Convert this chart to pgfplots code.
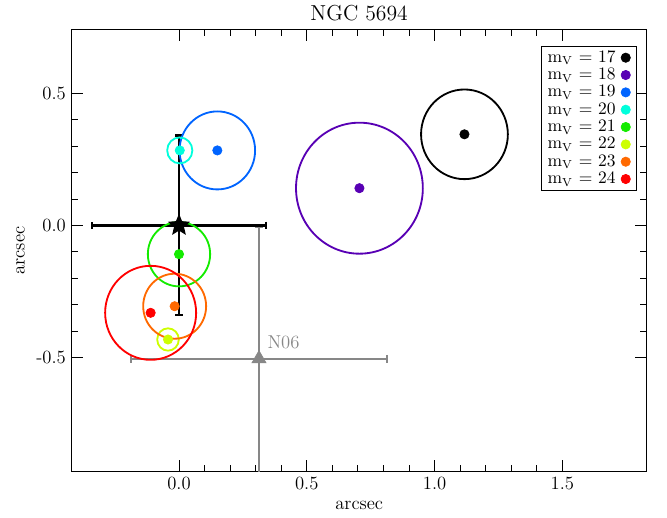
\documentclass[border=0pt]{standalone}
\usepackage{pgfplots}
\pgfplotsset{compat=1.18}
\usetikzlibrary{calc}
\definecolor{c18}{RGB}{88,0,180}
\definecolor{c19}{RGB}{0,100,255}
\definecolor{c20}{RGB}{0,255,220}
\definecolor{c21}{RGB}{20,235,0}
\definecolor{c22}{RGB}{205,255,0}
\definecolor{c23}{RGB}{255,105,0}
\definecolor{c24}{RGB}{255,0,0}
\definecolor{ngray}{RGB}{135,135,135}
\pgfdeclareplotmark{fstar}{%
 \pgfpathmoveto{\pgfpointpolar{90}{\pgfplotmarksize}}%
 \pgfpathlineto{\pgfpointpolar{126}{0.45\pgfplotmarksize}}%
 \pgfpathlineto{\pgfpointpolar{162}{\pgfplotmarksize}}%
 \pgfpathlineto{\pgfpointpolar{198}{0.45\pgfplotmarksize}}%
 \pgfpathlineto{\pgfpointpolar{234}{\pgfplotmarksize}}%
 \pgfpathlineto{\pgfpointpolar{270}{0.45\pgfplotmarksize}}%
 \pgfpathlineto{\pgfpointpolar{306}{\pgfplotmarksize}}%
 \pgfpathlineto{\pgfpointpolar{342}{0.45\pgfplotmarksize}}%
 \pgfpathlineto{\pgfpointpolar{18}{\pgfplotmarksize}}%
 \pgfpathlineto{\pgfpointpolar{54}{0.45\pgfplotmarksize}}%
 \pgfpathclose\pgfusepathqfill}
\pgfplotsset{dotleg/.style={only marks, mark=*, mark size=2.8pt,
  legend image code/.code={\path[draw=none,fill=none] (-2.8pt,-2.8pt) (4pt,2.8pt); \draw[##1, only marks] plot coordinates {(0pt,0pt)};}}}
\begin{document}
\begin{tikzpicture}
\begin{axis}[
 scale only axis, width=345pt, height=264.6pt,
 xmin=-0.42, xmax=1.83, ymin=-0.93, ymax=0.74,
 xtick={0,0.5,1,1.5}, ytick={-0.5,0,0.5},
 minor tick num=4,
 tick align=inside,
 major tick length=6.8pt, minor tick length=3.8pt,
 tick style={black, line width=0.5pt},
 axis line style={black, line width=0.6pt},
 /pgf/number format/assume math mode=true,
 xticklabel style={/pgf/number format/fixed, /pgf/number format/fixed zerofill, /pgf/number format/precision=1},
 yticklabel style={/pgf/number format/fixed, /pgf/number format/fixed zerofill, /pgf/number format/precision=1},
 font=\fontsize{11.2}{13}\selectfont,
 title={NGC 5694}, title style={font=\fontsize{13}{15}\selectfont, yshift=-4pt},
 xlabel={arcsec}, ylabel={arcsec},
 legend plot pos=right, legend cell align=left,
 legend style={at={(0.983,0.964)}, anchor=north east, draw=black, font=\fontsize{10.5}{12}\selectfont,
   inner sep=2.5pt, row sep=1.6pt, column sep=1.7pt,
   nodes={inner xsep=1.5pt, inner ysep=0pt, text height=7pt, text depth=1.8pt}},
]
% N06
\addplot[forget plot, ngray, line width=1.2pt, mark=triangle*, mark size=4.8pt, mark options={line width=0.5pt},
 error bars/.cd, x dir=both, x explicit, y dir=both, y explicit,
 error bar style={ngray, line width=1.2pt},
 error mark options={rotate=90, ngray, line width=1.2pt, mark size=2.3pt}]
 coordinates {(0.313,-0.505) +- (0.5,0.5)};
% circles
\addplot[forget plot, only marks, black, mark=o, mark size=26.9pt, mark options={xscale=0.968, line width=1.1pt}] coordinates {(1.117,0.345)};
\addplot[forget plot, only marks, c18, mark=o, mark size=39.3pt, mark options={xscale=0.968, line width=1.1pt}] coordinates {(0.706,0.141)};
\addplot[forget plot, only marks, c19, mark=o, mark size=23.4pt, mark options={xscale=0.968, line width=1.1pt}] coordinates {(0.150,0.284)};
\addplot[forget plot, only marks, c20, mark=o, mark size=7.8pt, mark options={xscale=0.968, line width=1.1pt}] coordinates {(0.003,0.284)};
\addplot[forget plot, only marks, c21, mark=o, mark size=19.3pt, mark options={xscale=0.968, line width=1.1pt}] coordinates {(0.000,-0.109)};
\addplot[forget plot, only marks, c22, mark=o, mark size=6.7pt, mark options={xscale=0.968, line width=1.1pt}] coordinates {(-0.043,-0.432)};
\addplot[forget plot, only marks, c23, mark=o, mark size=19.5pt, mark options={xscale=0.968, line width=1.1pt}] coordinates {(-0.017,-0.306)};
\addplot[forget plot, only marks, c24, mark=o, mark size=28.2pt, mark options={xscale=0.968, line width=1.1pt}] coordinates {(-0.111,-0.331)};
% dots
\addplot[black, dotleg] coordinates {(1.117,0.345)};
\addlegendentry{m$_{\mathrm{V}}$ = 17}
\addplot[c18, dotleg] coordinates {(0.706,0.141)};
\addlegendentry{m$_{\mathrm{V}}$ = 18}
\addplot[c19, dotleg] coordinates {(0.150,0.284)};
\addlegendentry{m$_{\mathrm{V}}$ = 19}
\addplot[c20, dotleg] coordinates {(0.003,0.284)};
\addlegendentry{m$_{\mathrm{V}}$ = 20}
\addplot[c21, dotleg] coordinates {(0.000,-0.109)};
\addlegendentry{m$_{\mathrm{V}}$ = 21}
\addplot[c22, dotleg] coordinates {(-0.043,-0.432)};
\addlegendentry{m$_{\mathrm{V}}$ = 22}
\addplot[c23, dotleg] coordinates {(-0.017,-0.306)};
\addlegendentry{m$_{\mathrm{V}}$ = 23}
\addplot[c24, dotleg] coordinates {(-0.111,-0.331)};
\addlegendentry{m$_{\mathrm{V}}$ = 24}
% centre with error bars
\addplot[forget plot, black, line width=1.4pt, mark=fstar, mark size=7pt,
 error bars/.cd, x dir=both, x explicit, y dir=both, y explicit,
 error bar style={black, line width=1.4pt},
 error mark options={rotate=90, black, line width=1.4pt, mark size=2.3pt}]
 coordinates {(0,0) +- (0.34,0.34)};
\node[anchor=west, ngray, inner sep=0pt, font=\fontsize{11.2}{13}\selectfont] at (axis cs:0.345,-0.442) {N06};
\end{axis}
\pgfresetboundingbox
\path ($(current axis.south west)+(-43pt,-27.6pt)$) rectangle ($(current axis.north east)+(12.2pt,18pt)$);
\end{tikzpicture}
\end{document}
